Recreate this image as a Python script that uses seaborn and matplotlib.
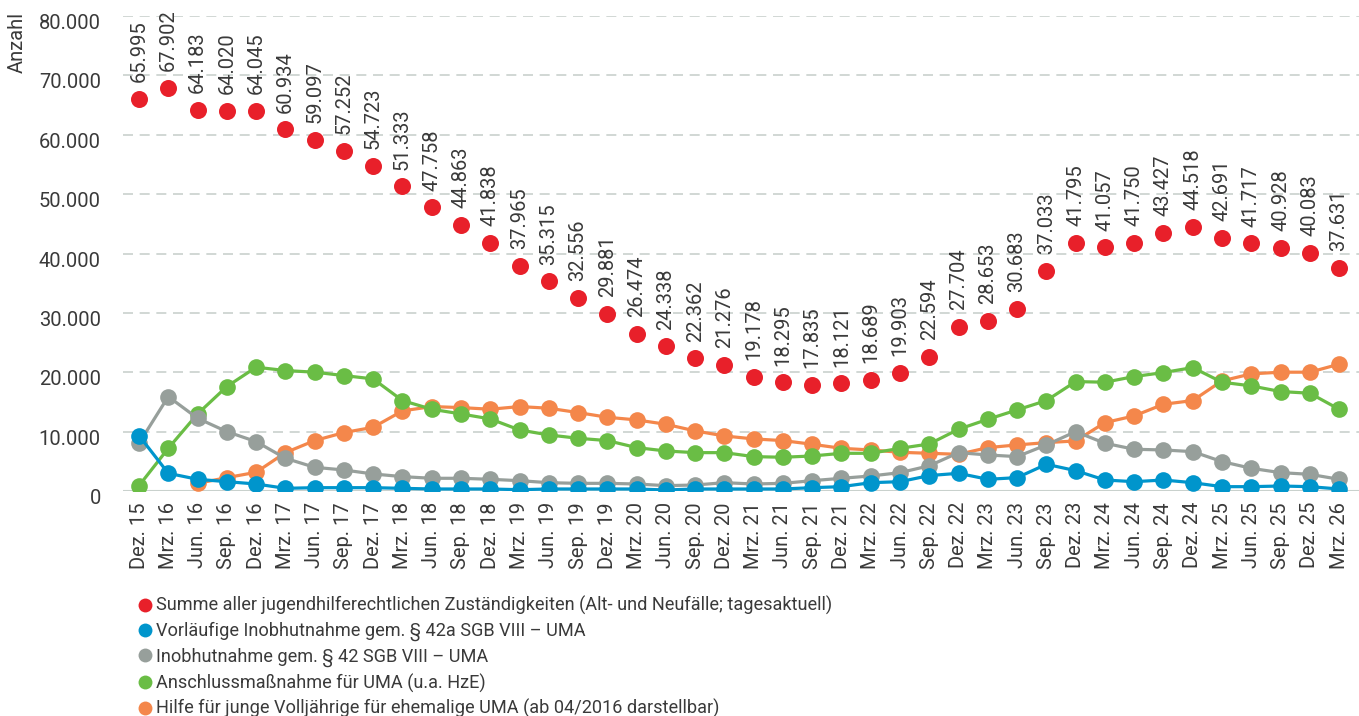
import numpy as np
import pandas as pd
import matplotlib
matplotlib.use("Agg")
import matplotlib.pyplot as plt
import matplotlib.transforms as mtransforms
import seaborn as sns
from matplotlib.lines import Line2D

# Quartale Dez. 15 - Mrz. 26
quartale = ["Dez. 15", "Mrz. 16", "Jun. 16", "Sep. 16", "Dez. 16", "Mrz. 17", "Jun. 17", "Sep. 17",
            "Dez. 17", "Mrz. 18", "Jun. 18", "Sep. 18", "Dez. 18", "Mrz. 19", "Jun. 19", "Sep. 19",
            "Dez. 19", "Mrz. 20", "Jun. 20", "Sep. 20", "Dez. 20", "Mrz. 21", "Jun. 21", "Sep. 21",
            "Dez. 21", "Mrz. 22", "Jun. 22", "Sep. 22", "Dez. 22", "Mrz. 23", "Jun. 23", "Sep. 23",
            "Dez. 23", "Mrz. 24", "Jun. 24", "Sep. 24", "Dez. 24", "Mrz. 25", "Jun. 25", "Sep. 25",
            "Dez. 25", "Mrz. 26"]

summe = [65995, 67902, 64183, 64020, 64045, 60934, 59097, 57252, 54723, 51333, 47758, 44863,
         41838, 37965, 35315, 32556, 29881, 26474, 24338, 22362, 21276, 19178, 18295, 17835,
         18121, 18689, 19903, 22594, 27704, 28653, 30683, 37033, 41795, 41057, 41750, 43427,
         44518, 42691, 41717, 40928, 40083, 37631]
vorlaeufig = [9330, 2980, 1970, 1570, 1180, 450, 560, 560, 560, 450, 340, 340, 340, 220,
              340, 340, 340, 340, 170, 340, 340, 340, 340, 560, 730, 1400, 1570, 2600,
              2980, 1970, 2250, 4500, 3430, 1850, 1570, 1850, 1400, 730, 730, 840, 730, 340]
inobhut = [8040, 15900, 12250, 10000, 8320, 5510, 3990, 3540, 2870, 2420, 2140, 2140, 1970, 1740,
           1400, 1290, 1290, 1180, 900, 1010, 1400, 1180, 1290, 1740, 2140, 2530, 3090, 4250,
           6460, 6070, 5790, 7760, 10000, 8040, 7030, 6910, 6630, 4950, 3820, 3090, 2810, 1970]
anschluss = [900, 7190, 12980, 17590, 20850, 20290, 20010, 19440, 18880, 15230, 13770, 12980, 12140, 10280,
             9440, 8880, 8490, 7310, 6740, 6460, 6460, 5790, 5680, 5900, 6350, 6350, 7190, 7920,
             10400, 12080, 13660, 15230, 18430, 18320, 19280, 19950, 20790, 18320, 17700, 16750, 16470, 13770]
volljaehrige = [np.nan, np.nan, 1290, 2250, 3150, 6460, 8490, 9840, 10730, 13490, 14220, 14050, 13770, 14220,
                13940, 13210, 12420, 11970, 11240, 10120, 9270, 8770, 8490, 7870, 7190, 6910, 6520, 6350,
                6180, 7310, 7760, 8150, 8430, 11520, 12650, 14610, 15230, 18550, 19730, 20010, 20010, 21360]

namen = ["Summe aller jugendhilferechtlichen Zuständigkeiten (Alt- und Neufälle; tagesaktuell)",
         "Vorläufige Inobhutnahme gem. § 42a SGB VIII – UMA",
         "Inobhutnahme gem. § 42 SGB VIII – UMA",
         "Anschlussmaßnahme für UMA (u.a. HzE)",
         "Hilfe für junge Volljährige für ehemalige UMA (ab 04/2016 darstellbar)"]
farben = ["#e8202a", "#0095cc", "#979f9b", "#6abd45", "#f4874b"]

sns.set_theme(style="white")
plt.rcParams['font.family'] = ['Roboto', 'DejaVu Sans']
plt.rcParams['font.weight'] = 'normal'
txt = "#3a3a3a"
fs = 14.5

df = pd.DataFrame({"x": np.arange(len(quartale)), "summe": summe, "vorl": vorlaeufig,
                   "inob": inobhut, "ansch": anschluss, "vollj": volljaehrige})

fig = plt.figure(figsize=(13.59, 7.16), dpi=100)
ax = fig.add_axes([123/1359, 225/716, 1236/1359, 475/716])

# Linien: Reihenfolge wie im Original (orange unten, blau oben)
for col, c, z in [("vollj", farben[4], 2), ("ansch", farben[3], 3), ("inob", farben[2], 4), ("vorl", farben[1], 5)]:
    d = df.dropna(subset=[col])
    sns.lineplot(data=d, x="x", y=col, color=c, lw=2.3, marker="o", markersize=12,
                 markeredgewidth=0, ax=ax, zorder=z)
sns.scatterplot(data=df, x="x", y="summe", color=farben[0], s=150, linewidth=0, ax=ax, zorder=6)

for i, v in enumerate(summe):
    ax.annotate(f"{v:,}".replace(",", "."), (i, v), xytext=(0, 12), textcoords="offset points",
                rotation=90, ha="center", va="bottom", fontsize=fs, color=txt, annotation_clip=False)

ax.set_ylim(0, 80000)
ax.set_xlim(-0.547, 41.68)
ax.set_yticks(range(0, 80001, 10000))
ax.set_yticklabels([f"{v:,}".replace(",", ".") for v in range(0, 80001, 10000)], fontsize=fs, color=txt)
ax.set_xticks(df["x"])
ax.set_xticklabels(quartale, rotation=90, fontsize=fs, color=txt)
ax.tick_params(axis="y", length=0, pad=16)
ax.tick_params(axis="x", length=0, pad=8)
ax.set_xlabel(""); ax.set_ylabel("")
# y-Beschriftungen etwas unter die Gitterlinie
off = mtransforms.ScaledTranslation(0, -4/72, fig.dpi_scale_trans)
for lab in ax.get_yticklabels():
    lab.set_transform(lab.get_transform() + off)
for s in ax.spines.values():
    s.set_visible(False)
for v in range(10000, 80001, 10000):
    ax.axhline(v, color="#c9d1cd", lw=1.2, ls=(0, (6, 4)), zorder=0)
ax.axhline(0, color="#c9d1cd", lw=1.5, zorder=1)

fig.text(17/1359, 1 - 42/716, "Anzahl", rotation=90, ha="center", va="center", fontsize=fs, color=txt)

handles = [Line2D([], [], ls="", marker="o", color=c, markersize=10, markeredgewidth=0) for c in farben]
fig.legend(handles, namen, loc="upper left", bbox_to_anchor=(127/1359, 1 - 587/716), frameon=False,
           fontsize=13.1, handletextpad=0.1, labelspacing=0.36, handlelength=1.0, borderpad=0,
           labelcolor=txt)

fig.savefig("out.png", dpi=100)
